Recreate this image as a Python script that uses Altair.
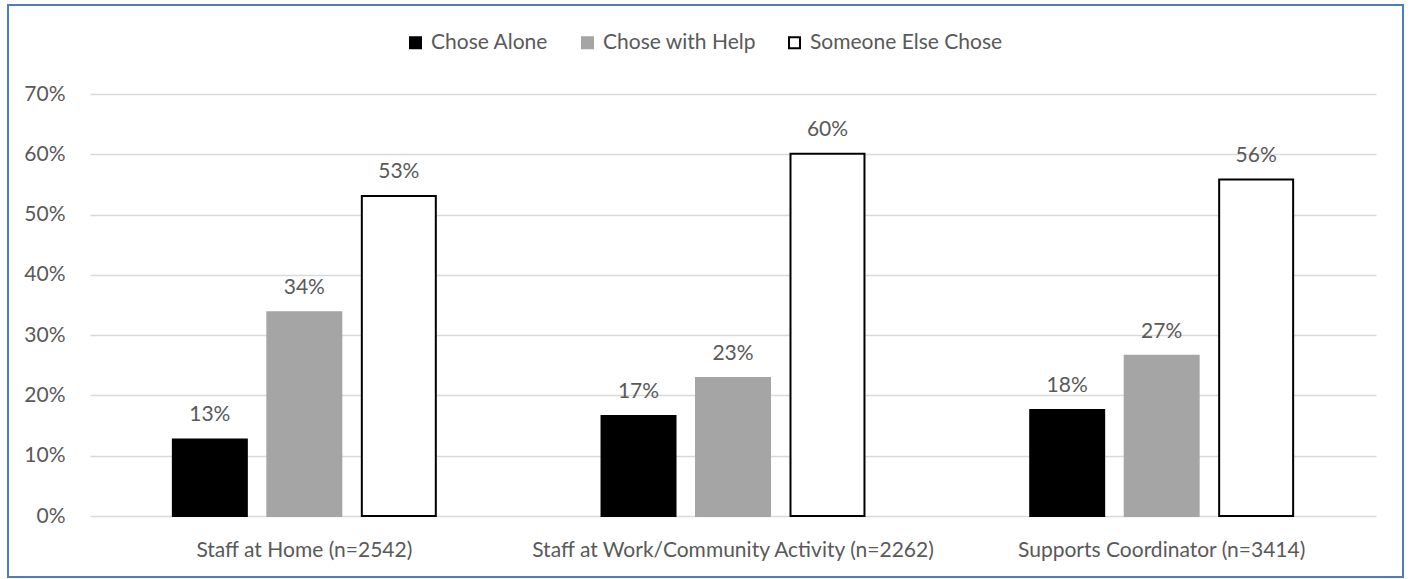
import altair as alt
import pandas as pd

# Who chose each type of support person, by setting
groups = [
    "Staff at Home (n=2542)",
    "Staff at Work/Community Activity (n=2262)",
    "Supports Coordinator (n=3414)",
]
responses = ["Chose Alone", "Chose with Help", "Someone Else Chose"]
chose_alone = [0.127, 0.166, 0.176]
chose_with_help = [0.338, 0.229, 0.266]
someone_else_chose = [0.531, 0.601, 0.558]
y_ticks = [0.0, 0.1, 0.2, 0.3, 0.4, 0.5, 0.6, 0.7]

fill_colors = ["#000000", "#a5a5a5", "#ffffff"]
edge_colors = ["#000000", "#a5a5a5", "#000000"]

rows = []
for i, g in enumerate(groups):
    for r, vals in zip(responses, [chose_alone, chose_with_help, someone_else_chose]):
        rows.append({"group": g, "response": r, "share": vals[i]})
df = pd.DataFrame(rows)

FONT = "Lato"
TXT = "#595959"
FS = 21

legend_cfg = dict(
    orient="none",
    legendX=315,
    legendY=-62,
    direction="horizontal",
    title=None,
    symbolType="square",
    symbolSize=121,
    symbolStrokeWidth=2,
    labelFont=FONT,
    labelFontSize=FS,
    labelColor=TXT,
    labelOffset=5,
    labelLimit=0,
    columnPadding=28,
)

base = alt.Chart(df).encode(
    x=alt.X(
        "group:N",
        sort=groups,
        title=None,
        scale=alt.Scale(paddingInner=0, paddingOuter=0),
        axis=alt.Axis(
            labelAngle=0,
            ticks=False,
            domain=False,
            labelPadding=40,
            labelBaseline="alphabetic",
            labelLimit=0,
            labelFont=FONT,
            labelFontSize=FS,
            labelColor=TXT,
        ),
    ),
    xOffset=alt.XOffset(
        "response:N",
        sort=responses,
        scale=alt.Scale(paddingInner=0.217, paddingOuter=0.877),
    ),
    y=alt.Y(
        "share:Q",
        title=None,
        scale=alt.Scale(domain=[0, 0.7], nice=False),
        axis=alt.Axis(
            values=y_ticks,
            format=".0%",
            ticks=False,
            domain=False,
            labelPadding=25,
            labelFont=FONT,
            labelFontSize=FS,
            labelColor=TXT,
            gridColor="#d9d9d9",
            gridWidth=1.5,
        ),
    ),
)

bars = base.mark_bar(strokeWidth=2).encode(
    fill=alt.Fill(
        "response:N",
        sort=responses,
        scale=alt.Scale(domain=responses, range=fill_colors),
        legend=alt.Legend(**legend_cfg),
    ),
    stroke=alt.Stroke(
        "response:N",
        sort=responses,
        scale=alt.Scale(domain=responses, range=edge_colors),
        legend=alt.Legend(**legend_cfg),
    ),
)

labels = base.mark_text(
    dy=-18, baseline="alphabetic", font=FONT, fontSize=FS, color=TXT
).encode(text=alt.Text("share:Q", format=".0%"))

# Outer frame around the whole figure
frame = (
    alt.Chart(pd.DataFrame({"frame": [0]}))
    .mark_rect(fillOpacity=0, stroke="#4a7ebf", strokeWidth=2)
    .encode(
        x=alt.value(-82),
        x2=alt.value(1313),
        y=alt.value(-89),
        y2=alt.value(483),
    )
)

chart = (
    alt.layer(bars, labels, frame)
    .properties(
        width=1286,
        height=422,
        padding={"left": 90, "top": 94, "right": 34, "bottom": 63},
        autosize=alt.AutoSizeParams(type="none"),
        background="#ffffff",
    )
    .configure_view(stroke=None)
)

chart.save("out.html", embed_options={"renderer": "svg", "actions": False})
